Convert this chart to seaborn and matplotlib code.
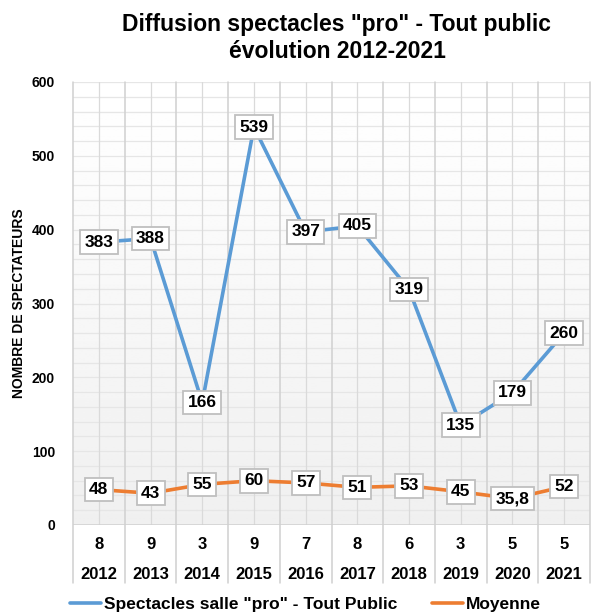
import numpy as np
import pandas as pd
import matplotlib
matplotlib.use("Agg")
import matplotlib.pyplot as plt
import matplotlib.transforms as mtransforms
import seaborn as sns

years = ["2012", "2013", "2014", "2015", "2016", "2017", "2018", "2019", "2020", "2021"]
nb_spectacles = [8, 9, 3, 9, 7, 8, 6, 3, 5, 5]
spectateurs = [383, 388, 166, 539, 397, 405, 319, 135, 179, 260]
moyenne = [48, 43, 55, 60, 57, 51, 53, 45, 35.8, 52]

serie1 = 'Spectacles salle "pro" - Tout Public'
serie2 = "Moyenne"
blue = "#5b9bd5"
orange = "#ed7d31"

sns.set_style("white")
plt.rcParams["font.family"] = ["Liberation Sans", "DejaVu Sans"]
plt.rcParams["font.weight"] = "bold"
plt.rcParams["text.color"] = "black"
plt.rcParams["axes.labelcolor"] = "black"
plt.rcParams["ytick.color"] = "black"

df = pd.DataFrame({"annee": years, serie1: spectateurs, serie2: moyenne})
long = df.melt(id_vars="annee", var_name="serie", value_name="val")

fig = plt.figure(figsize=(5.96, 6.15), dpi=100)
ax = fig.add_axes([73 / 596, 1 - 525 / 615, 517 / 596, 443 / 615])

sns.lineplot(data=long, x="annee", y="val", hue="serie",
             palette={serie1: blue, serie2: orange}, linewidth=2.6,
             sort=False, ax=ax, zorder=3)

n = len(years)
ax.set_xlim(-0.5, n - 0.5)
ax.set_ylim(0, 600)

# background gradient
grad = np.linspace(0.94, 1.0, 256).reshape(-1, 1)
ax.imshow(grad, cmap="gray", vmin=0, vmax=1, aspect="auto",
          extent=[-0.5, n - 0.5, 0, 600], origin="lower", zorder=0)

# grid
for y in range(20, 601, 20):
    ax.axhline(y, color="#e6e6e6", lw=0.9, zorder=1)
for i in range(n):
    ax.axvline(i, color="#dadada", lw=0.9, zorder=1)
trans = mtransforms.blended_transform_factory(ax.transData, ax.transAxes)
for i in range(n + 1):
    ax.plot([i - 0.5, i - 0.5], [-0.13, 1], transform=trans, color="#d0d0d0",
            lw=1.1, clip_on=False, zorder=1)
ax.axhline(0, color="#d0d0d0", lw=1.1, zorder=1)

for s in ax.spines.values():
    s.set_visible(False)

# data labels
def fmt(v):
    return str(int(v)) if float(v).is_integer() else str(v).replace(".", ",")

for series, vals in [(serie1, spectateurs), (serie2, moyenne)]:
    for i, v in enumerate(vals):
        ax.text(i, v, fmt(v), ha="center", va="center", fontsize=12.5,
                fontweight="bold", zorder=5,
                bbox=dict(boxstyle="square,pad=0.25", fc="white",
                          ec="#bfbfbf", lw=1.3))

# table below axis
ax.set_xticks([])
for i in range(n):
    ax.text(i, -0.045, str(nb_spectacles[i]), transform=trans, ha="center",
            va="center", fontsize=12, fontweight="bold")
    ax.text(i, -0.111, years[i], transform=trans, ha="center",
            va="center", fontsize=12, fontweight="bold")

ax.set_yticks(range(0, 601, 100))
ax.tick_params(axis="y", length=0, pad=13, labelsize=10)
for t in ax.get_yticklabels():
    t.set_fontweight("bold")
ax.set_xlabel("")
ax.set_ylabel("NOMBRE DE SPECTATEURS", fontsize=10, fontweight="bold", labelpad=4)

fig.text(337 / 596, 1 - 13 / 615, 'Diffusion spectacles "pro" - Tout public\névolution 2012-2021',
         ha="center", va="top", fontsize=16.5, fontweight="bold", linespacing=1.2)

handles, labels = ax.get_legend_handles_labels()
ax.legend(handles, labels, loc="center", bbox_to_anchor=(0.45, -0.18), ncol=2,
          frameon=False, handlelength=1.8, handletextpad=0.15,
          columnspacing=2.0, prop={"weight": "bold", "size": 12.5})

fig.savefig("out.png", dpi=100)
